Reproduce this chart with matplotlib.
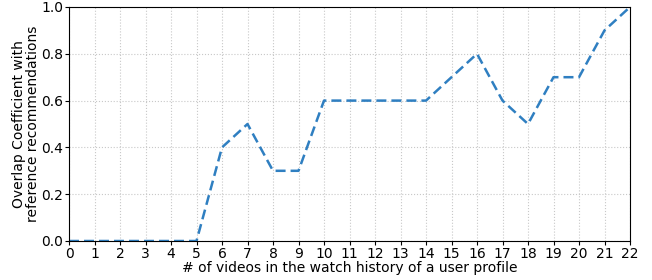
import matplotlib
matplotlib.use("Agg")
import matplotlib.pyplot as plt

x_values = list(range(0, 23))
overlap = [0, 0, 0, 0, 0, 0, 0.4, 0.5, 0.3, 0.3, 0.6, 0.6, 0.6, 0.6, 0.6,
           0.7, 0.8, 0.6, 0.5, 0.7, 0.7, 0.9, 1.0]
y_ticks = [0.0, 0.2, 0.4, 0.6, 0.8, 1.0]

fig = plt.figure(figsize=(6.52, 2.8), dpi=100)
ax = fig.add_axes([69/652, 1 - 241/280, (630-69)/652, (241-7)/280])
ax.plot(x_values, overlap, linestyle="--", color="#2f7fc1", linewidth=1.8, dashes=(4, 2))
ax.set_xlim(0, 22)
ax.set_ylim(0, 1.0)
ax.set_xticks(x_values)
ax.set_yticks(y_ticks)
ax.set_yticklabels([f"{v:.1f}" for v in y_ticks])
ax.grid(True, linestyle=":", color="#c8c8c8", linewidth=0.8)
ax.tick_params(labelsize=10, length=3, pad=1)
ax.set_xlabel("# of videos in the watch history of a user profile", fontsize=10, labelpad=0)
ax.set_ylabel("Overlap Coefficient with\nreference recommendations", fontsize=10,
              labelpad=1, linespacing=1.05)
fig.savefig("out.png", dpi=100)
